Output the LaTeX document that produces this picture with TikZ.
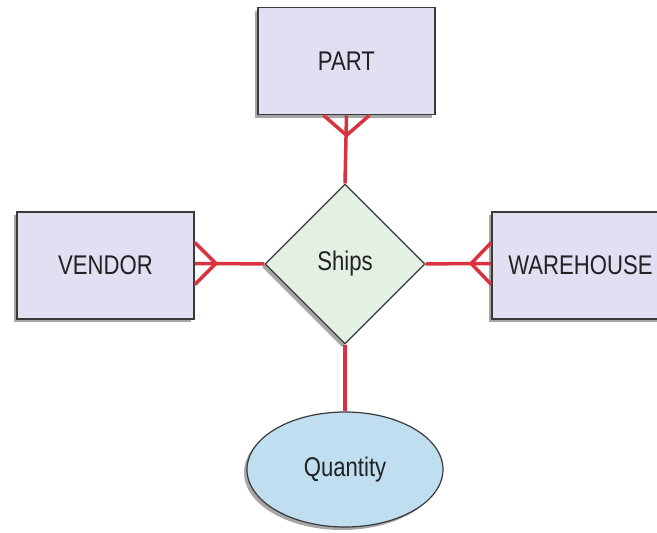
\documentclass[tikz,border=0pt]{standalone}
\usepackage{fontspec}
\setmainfont[FakeStretch=0.82]{Liberation Sans}
\usetikzlibrary{shapes.geometric,shadows,calc}
\definecolor{boxfill}{HTML}{E1DFF1}
\definecolor{dfill}{HTML}{E3F1E5}
\definecolor{efill}{HTML}{BFDFF1}
\definecolor{rel}{HTML}{D8333E}
\definecolor{edge}{HTML}{3A3A3A}
\definecolor{txt}{HTML}{222222}
\tikzset{
  shade/.style={drop shadow={shadow xshift=-3pt,shadow yshift=-3pt,fill=black,opacity=0.35}},
  entity/.style={draw=edge,line width=1.6pt,fill=boxfill,minimum width=177pt,minimum height=107pt,inner sep=0pt,shade,text=txt,font=\fontsize{27}{30}\selectfont},
  relship/.style={diamond,draw=edge,line width=1.2pt,fill=dfill,minimum width=160pt,minimum height=160pt,inner sep=0pt,shade,text=txt,font=\fontsize{27}{30}\selectfont},
  attr/.style={ellipse,draw=edge,line width=1.2pt,fill=efill,minimum width=196pt,minimum height=115pt,inner sep=0pt,shade,text=txt,font=\fontsize{27}{30}\selectfont},
  link/.style={draw=rel,line width=3.5pt}
}
\begin{document}
\begin{tikzpicture}[x=1pt,y=-1pt]
\useasboundingbox (0,0) rectangle (657,533);
\fill[white] (0,0) rectangle (657,533);
\clip (0,0) rectangle (657,533);
\node[entity] (part) at (346.5,61) {PART};
\node[entity] (vendor) at (105.5,265.5) {VENDOR};
\node[entity] (warehouse) at (580.5,265.5) {WAREHOUSE};
\node[relship] (ships) at (345,264) {Ships};
\node[attr] (qty) at (345,469.5) {Quantity};
% part
\coordinate (pf) at ($(part.south)+(0,20)$);
\coordinate (pl) at ($(part.south)+(-23,0)$);
\coordinate (pr) at ($(part.south)+(23,0)$);
\draw[link] (ships.north) -- (part.south);
\draw[link] (pf) -- (pl);
\draw[link] (pf) -- (pr);
% vendor
\coordinate (vf) at ($(vendor.east)+(21,-2)$);
\coordinate (vt) at ($(vendor.east)+(0,-23)$);
\coordinate (vb) at ($(vendor.east)+(0,19)$);
\draw[link] (ships.west) -- (vf) -- ($(vendor.east)+(0,-2)$);
\draw[link] (vf) -- (vt);
\draw[link] (vf) -- (vb);
% warehouse
\coordinate (wf) at ($(warehouse.west)+(-20,-2)$);
\coordinate (wt) at ($(warehouse.west)+(0,-23)$);
\coordinate (wb) at ($(warehouse.west)+(0,19)$);
\draw[link] (ships.east) -- (wf) -- ($(warehouse.west)+(0,-2)$);
\draw[link] (wf) -- (wt);
\draw[link] (wf) -- (wb);
% quantity
\draw[link] (ships.south) -- (qty.north);
\end{tikzpicture}
\end{document}
